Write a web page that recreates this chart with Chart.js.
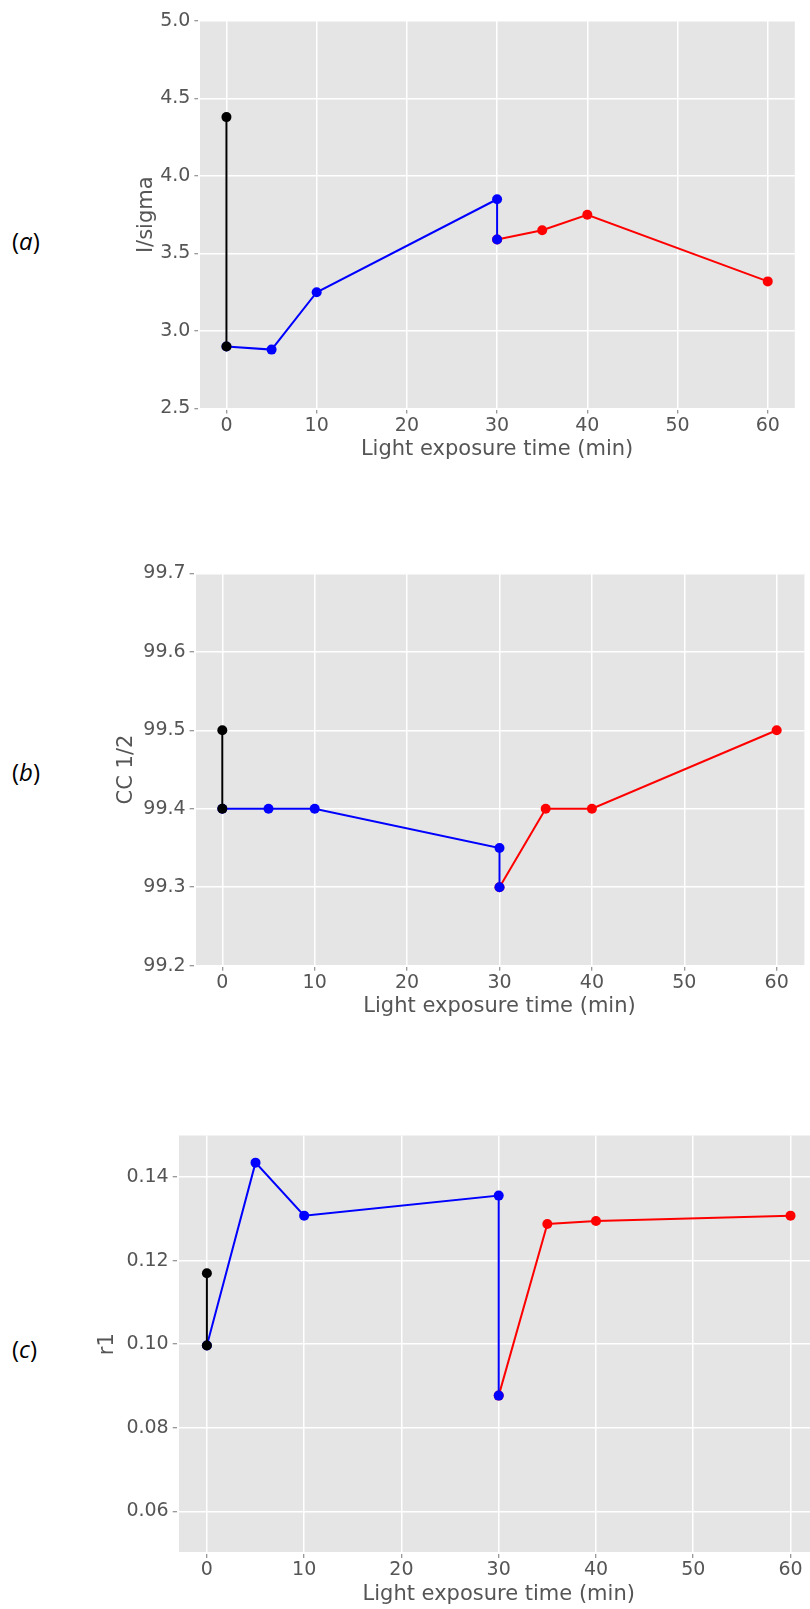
<!DOCTYPE html>
<html>
<head>
  <title>Light exposure time series</title>
  <script src="https://cdn.jsdelivr.net/npm/chart.js"></script>
  <style>
    body {
      margin: 0;
      width: 810px;
      height: 1609px;
      overflow: hidden;
      position: relative;
      background: #ffffff;
    }
    canvas {
      position: absolute;
      left: 0;
    }
    .tag {
      position: absolute;
      left: 12px;
      font-family: "Open Sans", sans-serif;
      font-size: 24px;
      line-height: 30px;
      color: #000000;
    }
  </style>
  <script>
    // exposure times for the three segments of each run
    const darkTime = [0, 0];
    const blueTime = [0, 5, 10, 30, 30];
    const redTime = [30, 35, 40, 60];
    const timeTicks = [0, 10, 20, 30, 40, 50, 60];

    // I/sigma
    const isigmaDark = [4.38, 2.90];
    const isigmaBlue = [2.90, 2.88, 3.25, 3.85, 3.59];
    const isigmaRed = [3.59, 3.65, 3.75, 3.32];
    const isigmaTicks = [2.5, 3.0, 3.5, 4.0, 4.5, 5.0];

    // CC 1/2
    const ccDark = [99.5, 99.4];
    const ccBlue = [99.4, 99.4, 99.4, 99.35, 99.3];
    const ccRed = [99.3, 99.4, 99.4, 99.5];
    const ccTicks = [99.2, 99.3, 99.4, 99.5, 99.6, 99.7];

    // r1
    const r1Dark = [0.117, 0.0997];
    const r1Blue = [0.0997, 0.1435, 0.1308, 0.1356, 0.0877];
    const r1Red = [0.0877, 0.1288, 0.1295, 0.1308];
    const r1Ticks = [0.06, 0.08, 0.10, 0.12, 0.14];

    const GREY = '#555555';
    const FONT = 'DejaVu Sans';

    // grey ggplot-style panel behind the plot area
    const panelBackground = {
      id: 'panelBackground',
      beforeDraw(chart) {
        const a = chart.chartArea;
        const ctx = chart.ctx;
        ctx.save();
        ctx.fillStyle = '#e5e5e5';
        ctx.fillRect(a.left, a.top, a.right - a.left, a.bottom - a.top);
        ctx.restore();
      }
    };

    function points(xs, ys) {
      return xs.map((x, i) => ({ x: x, y: ys[i] }));
    }

    function segment(xs, ys, color) {
      return {
        data: points(xs, ys),
        showLine: true,
        borderColor: color,
        backgroundColor: color,
        pointBackgroundColor: color,
        pointBorderWidth: 0,
        pointRadius: 5,
        borderWidth: 2
      };
    }

    function drawPanel(id, p) {
      const canvas = document.getElementById(id);
      const top = Math.floor(p.top) - 20;
      const padTop = p.top - top;
      const axisH = 53.8;
      const padLeft = p.titleMid - 12.6;
      const width = Math.ceil(p.right) + 10;
      const height = Math.ceil(p.bottom - top + axisH);
      canvas.width = width;
      canvas.height = height;
      canvas.style.top = top + 'px';

      const tickFont = { family: FONT, size: 19 };
      const titleFont = { family: FONT, size: 21 };
      const grid = { color: '#ffffff', lineWidth: 1.5, tickColor: '#777777', tickWidth: 1, tickLength: 5 };

      new Chart(canvas, {
        type: 'scatter',
        data: {
          datasets: [
            segment(darkTime, p.dark, '#000000'),
            segment(blueTime, p.blue, '#0000ff'),
            segment(redTime, p.red, '#ff0000')
          ]
        },
        options: {
          responsive: false,
          animation: false,
          layout: {
            padding: { left: padLeft, top: padTop, right: width - p.right, bottom: height - (p.bottom - top) - axisH }
          },
          plugins: { legend: { display: false }, tooltip: { enabled: false } },
          scales: {
            x: {
              type: 'linear',
              min: -3,
              max: 63,
              grid: grid,
              border: { display: true, color: '#ffffff', width: 2 },
              afterBuildTicks: s => { s.ticks = timeTicks.map(v => ({ value: v })); },
              afterFit: s => { s.height = axisH; },
              ticks: { font: tickFont, color: GREY, padding: 1, maxRotation: 0 },
              title: { display: true, text: 'Light exposure time (min)', font: titleFont, color: GREY, padding: 0 }
            },
            y: {
              type: 'linear',
              min: p.min,
              max: p.max,
              grid: grid,
              border: { display: true, color: '#ffffff', width: 2 },
              afterBuildTicks: s => { s.ticks = p.ticks.map(v => ({ value: v })); },
              afterFit: s => { s.width = p.left - padLeft; },
              ticks: { font: tickFont, color: GREY, padding: 4, callback: v => v.toFixed(p.decimals) },
              title: { display: true, text: p.label, font: titleFont, color: GREY, padding: 0 }
            }
          }
        },
        plugins: [panelBackground]
      });
    }

    window.onload = () => {
      drawPanel('chartA', {
        left: 199.4, right: 794.8, top: 21, bottom: 408.5, titleMid: 146.5,
        min: 2.5, max: 5.0, ticks: isigmaTicks, decimals: 1, label: 'I/sigma',
        dark: isigmaDark, blue: isigmaBlue, red: isigmaRed
      });
      drawPanel('chartB', {
        left: 194.6, right: 804.4, top: 573.3, bottom: 965.7, titleMid: 127,
        min: 99.2, max: 99.7, ticks: ccTicks, decimals: 1, label: 'CC 1/2',
        dark: ccDark, blue: ccBlue, red: ccRed
      });
      drawPanel('chartC', {
        left: 177.7, right: 819.7, top: 1135.5, bottom: 1553, titleMid: 108,
        min: 0.05, max: 0.15, ticks: r1Ticks, decimals: 2, label: 'r1',
        dark: r1Dark, blue: r1Blue, red: r1Red
      });
    };
  </script>
</head>
<body>
  <div class="tag" style="top:226px">(<i>a</i>)</div>
  <div class="tag" style="top:757px">(<i>b</i>)</div>
  <div class="tag" style="top:1334px">(<i>c</i>)</div>
  <canvas id="chartA"></canvas>
  <canvas id="chartB"></canvas>
  <canvas id="chartC"></canvas>
</body>
</html>
